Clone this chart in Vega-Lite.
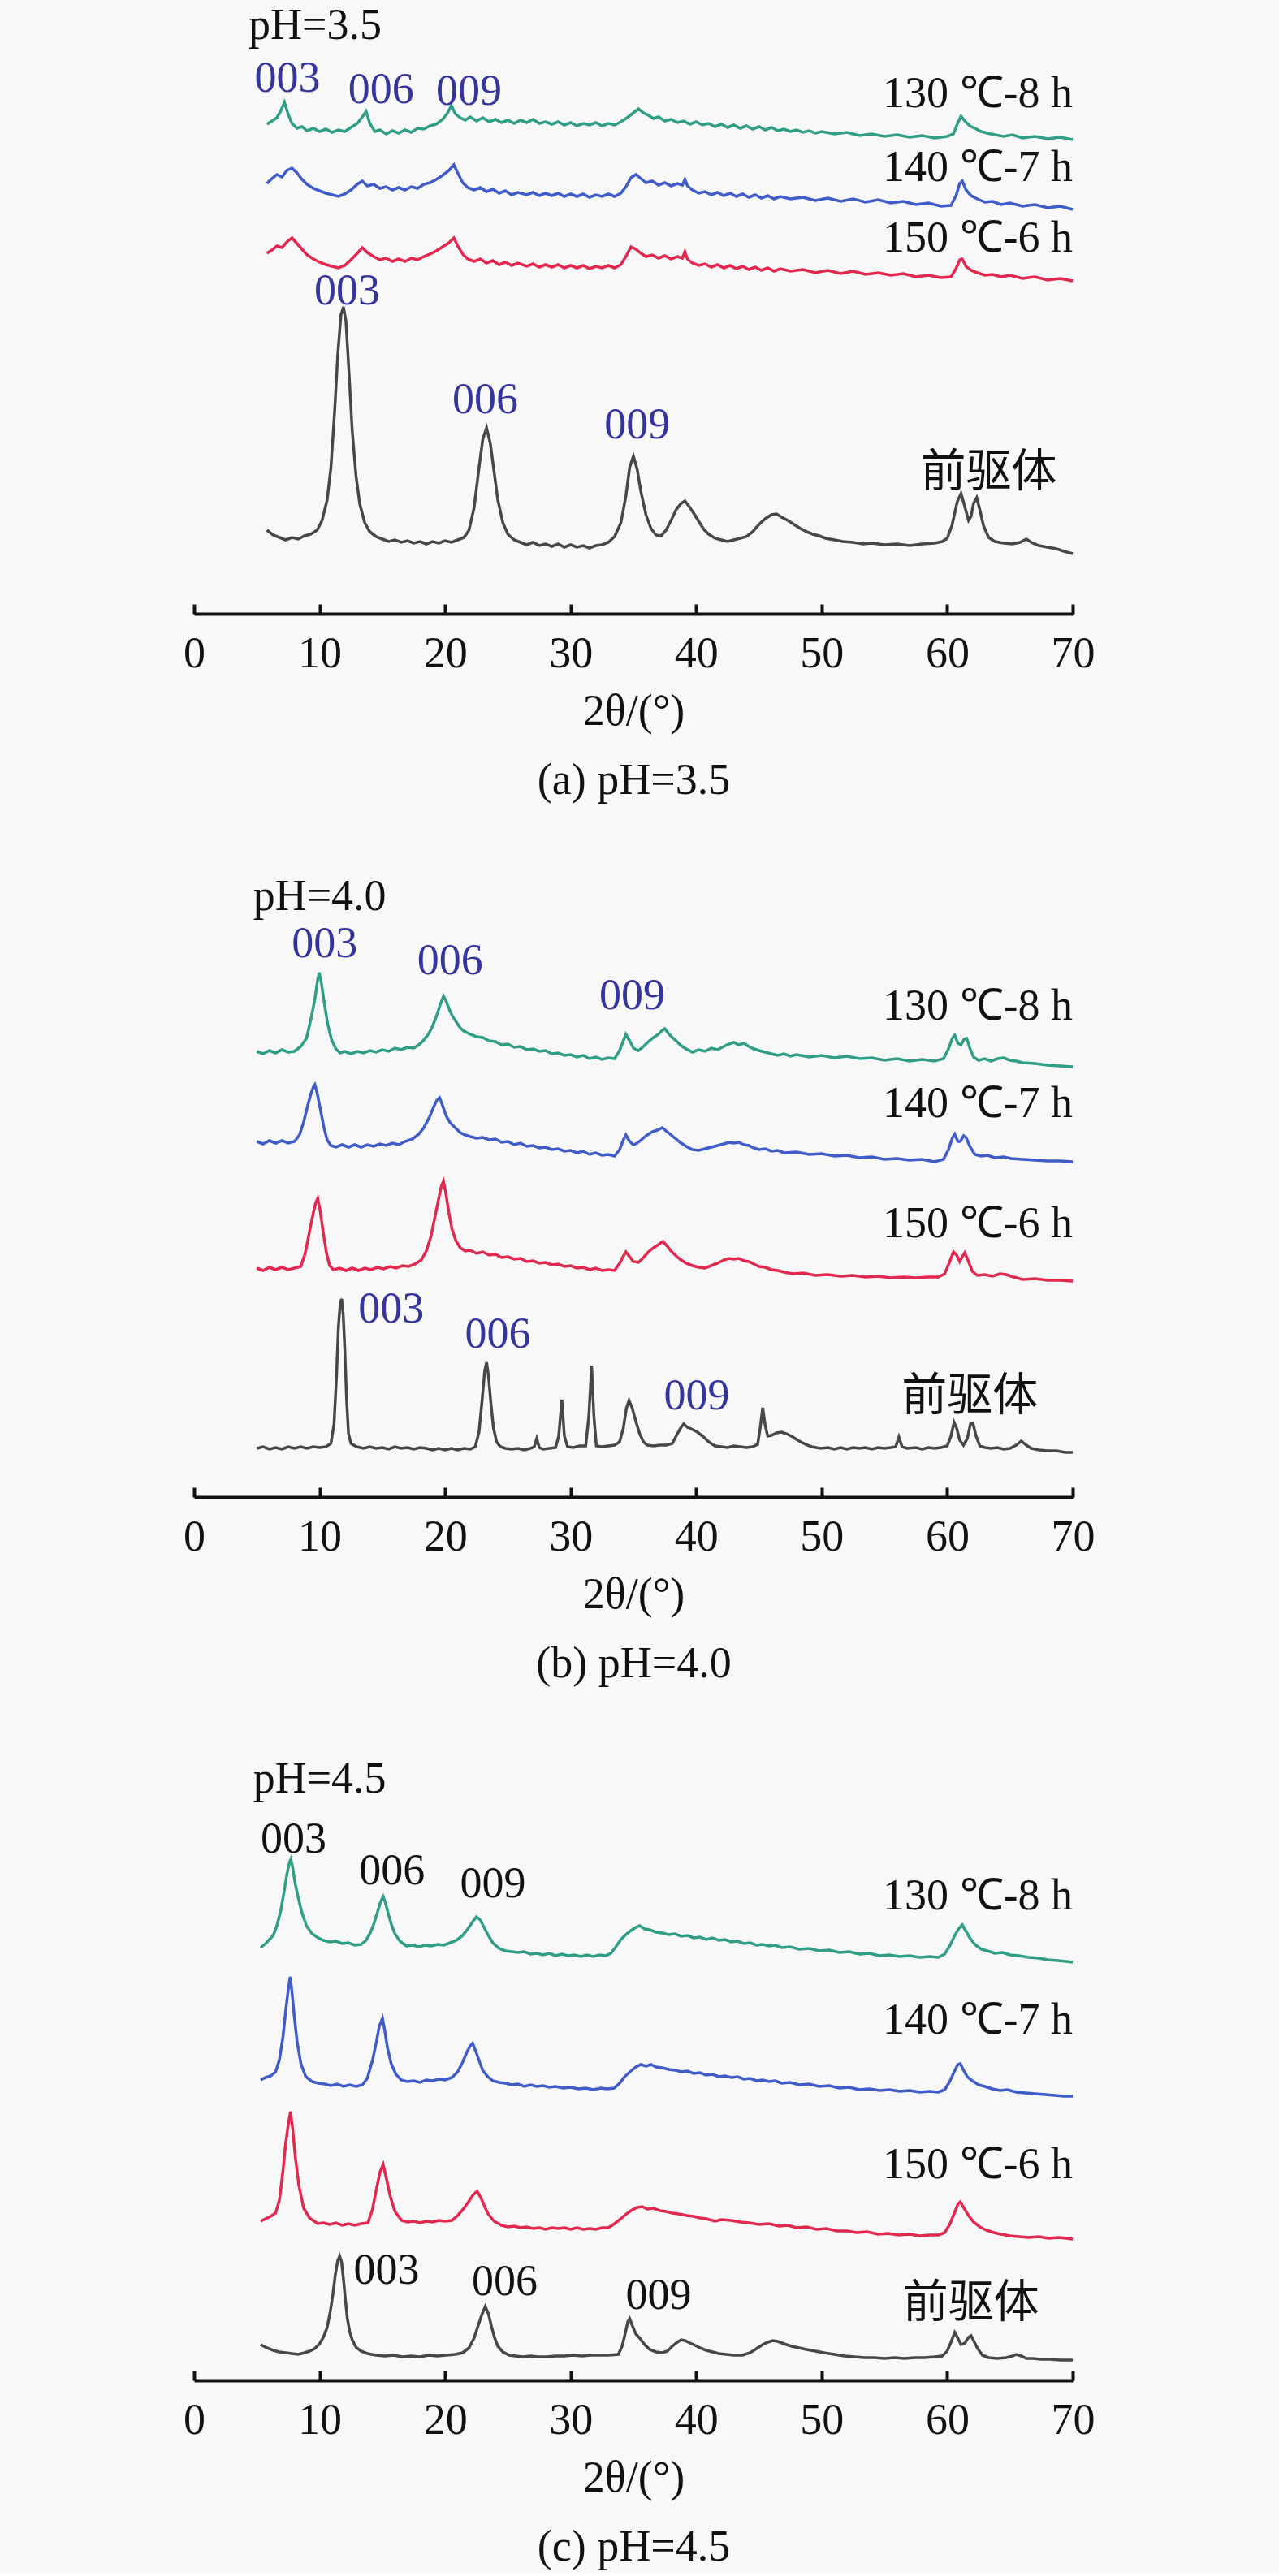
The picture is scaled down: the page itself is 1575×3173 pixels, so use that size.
{
  "$schema": "https://vega.github.io/schema/vega-lite/v6.json",
  "background": "#f8f8f8",
  "padding": {"left": 225, "top": 5, "right": 235, "bottom": 5},
  "bounds": "flush",
  "spacing": 338,
  "datasets": {
    "a": [
      {"s":"130","x":5.8,"y":603},{"s":"130","x":6.2,"y":607},{"s":"130","x":6.6,"y":611},{"s":"130","x":6.9,"y":619},{"s":"130","x":7.2,"y":630},{"s":"130","x":7.5,"y":615},{"s":"130","x":7.8,"y":604},{"s":"130","x":8.2,"y":598},{"s":"130","x":8.6,"y":600},{"s":"130","x":9.0,"y":595},{"s":"130","x":9.5,"y":598},{"s":"130","x":10.0,"y":594},{"s":"130","x":10.5,"y":597},{"s":"130","x":11.0,"y":593},{"s":"130","x":11.5,"y":596},{"s":"130","x":12.0,"y":594},{"s":"130","x":12.5,"y":599},{"s":"130","x":13.0,"y":604},{"s":"130","x":13.4,"y":612},{"s":"130","x":13.7,"y":619},{"s":"130","x":14.0,"y":604},{"s":"130","x":14.4,"y":594},{"s":"130","x":14.8,"y":596},{"s":"130","x":15.3,"y":591},{"s":"130","x":15.8,"y":595},{"s":"130","x":16.3,"y":592},{"s":"130","x":16.8,"y":596},{"s":"130","x":17.3,"y":593},{"s":"130","x":17.8,"y":598},{"s":"130","x":18.3,"y":597},{"s":"130","x":18.8,"y":601},{"s":"130","x":19.3,"y":603},{"s":"130","x":19.8,"y":609},{"s":"130","x":20.2,"y":617},{"s":"130","x":20.5,"y":626},{"s":"130","x":20.8,"y":616},{"s":"130","x":21.2,"y":611},{"s":"130","x":21.6,"y":608},{"s":"130","x":22.0,"y":612},{"s":"130","x":22.5,"y":607},{"s":"130","x":23.0,"y":611},{"s":"130","x":23.5,"y":606},{"s":"130","x":24.0,"y":609},{"s":"130","x":24.5,"y":605},{"s":"130","x":25.0,"y":608},{"s":"130","x":25.5,"y":604},{"s":"130","x":26.0,"y":608},{"s":"130","x":26.5,"y":605},{"s":"130","x":27.0,"y":609},{"s":"130","x":27.5,"y":604},{"s":"130","x":28.0,"y":606},{"s":"130","x":28.5,"y":603},{"s":"130","x":29.0,"y":606},{"s":"130","x":29.5,"y":602},{"s":"130","x":30.0,"y":605},{"s":"130","x":30.5,"y":601},{"s":"130","x":31.0,"y":604},{"s":"130","x":31.5,"y":602},{"s":"130","x":32.0,"y":605},{"s":"130","x":32.5,"y":601},{"s":"130","x":33.0,"y":604},{"s":"130","x":33.5,"y":602},{"s":"130","x":34.0,"y":606},{"s":"130","x":34.5,"y":611},{"s":"130","x":35.0,"y":617},{"s":"130","x":35.4,"y":622},{"s":"130","x":35.8,"y":617},{"s":"130","x":36.2,"y":614},{"s":"130","x":36.6,"y":610},{"s":"130","x":37.0,"y":612},{"s":"130","x":37.5,"y":607},{"s":"130","x":38.0,"y":609},{"s":"130","x":38.5,"y":605},{"s":"130","x":39.0,"y":607},{"s":"130","x":39.5,"y":603},{"s":"130","x":40.0,"y":606},{"s":"130","x":40.5,"y":602},{"s":"130","x":41.0,"y":604},{"s":"130","x":41.5,"y":600},{"s":"130","x":42.0,"y":603},{"s":"130","x":42.5,"y":599},{"s":"130","x":43.0,"y":602},{"s":"130","x":43.5,"y":598},{"s":"130","x":44.0,"y":601},{"s":"130","x":44.5,"y":597},{"s":"130","x":45.0,"y":600},{"s":"130","x":45.5,"y":596},{"s":"130","x":46.0,"y":599},{"s":"130","x":46.5,"y":595},{"s":"130","x":47.0,"y":597},{"s":"130","x":47.5,"y":594},{"s":"130","x":48.0,"y":596},{"s":"130","x":48.5,"y":593},{"s":"130","x":49.0,"y":595},{"s":"130","x":49.5,"y":592},{"s":"130","x":50.0,"y":594},{"s":"130","x":51.0,"y":591},{"s":"130","x":52.0,"y":593},{"s":"130","x":53.0,"y":589},{"s":"130","x":54.0,"y":591},{"s":"130","x":55.0,"y":588},{"s":"130","x":56.0,"y":590},{"s":"130","x":57.0,"y":587},{"s":"130","x":58.0,"y":589},{"s":"130","x":59.0,"y":586},{"s":"130","x":60.0,"y":588},{"s":"130","x":60.5,"y":591},{"s":"130","x":60.8,"y":603},{"s":"130","x":61.1,"y":613},{"s":"130","x":61.4,"y":607},{"s":"130","x":61.8,"y":601},{"s":"130","x":62.2,"y":598},{"s":"130","x":62.7,"y":594},{"s":"130","x":63.2,"y":592},{"s":"130","x":63.8,"y":590},{"s":"130","x":64.5,"y":588},{"s":"130","x":65.2,"y":590},{"s":"130","x":66.0,"y":586},{"s":"130","x":67.0,"y":588},{"s":"130","x":68.0,"y":585},{"s":"130","x":69.0,"y":587},{"s":"130","x":70.0,"y":584},
      {"s":"140","x":5.8,"y":530},{"s":"140","x":6.2,"y":536},{"s":"140","x":6.6,"y":541},{"s":"140","x":7.0,"y":538},{"s":"140","x":7.4,"y":546},{"s":"140","x":7.8,"y":549},{"s":"140","x":8.2,"y":543},{"s":"140","x":8.6,"y":535},{"s":"140","x":9.0,"y":529},{"s":"140","x":9.5,"y":524},{"s":"140","x":10.0,"y":521},{"s":"140","x":10.5,"y":518},{"s":"140","x":11.0,"y":516},{"s":"140","x":11.5,"y":514},{"s":"140","x":12.0,"y":517},{"s":"140","x":12.5,"y":522},{"s":"140","x":13.0,"y":529},{"s":"140","x":13.4,"y":533},{"s":"140","x":13.8,"y":527},{"s":"140","x":14.3,"y":529},{"s":"140","x":14.8,"y":524},{"s":"140","x":15.3,"y":526},{"s":"140","x":15.8,"y":522},{"s":"140","x":16.3,"y":525},{"s":"140","x":16.8,"y":522},{"s":"140","x":17.3,"y":526},{"s":"140","x":17.8,"y":524},{"s":"140","x":18.3,"y":529},{"s":"140","x":18.8,"y":531},{"s":"140","x":19.3,"y":535},{"s":"140","x":19.8,"y":540},{"s":"140","x":20.3,"y":546},{"s":"140","x":20.7,"y":553},{"s":"140","x":21.0,"y":543},{"s":"140","x":21.4,"y":531},{"s":"140","x":21.8,"y":525},{"s":"140","x":22.3,"y":522},{"s":"140","x":22.8,"y":525},{"s":"140","x":23.3,"y":520},{"s":"140","x":23.8,"y":523},{"s":"140","x":24.3,"y":518},{"s":"140","x":24.8,"y":521},{"s":"140","x":25.3,"y":516},{"s":"140","x":25.8,"y":519},{"s":"140","x":26.5,"y":516},{"s":"140","x":27.0,"y":519},{"s":"140","x":27.5,"y":515},{"s":"140","x":28.0,"y":518},{"s":"140","x":28.5,"y":515},{"s":"140","x":29.0,"y":518},{"s":"140","x":29.5,"y":514},{"s":"140","x":30.0,"y":517},{"s":"140","x":30.5,"y":514},{"s":"140","x":31.0,"y":517},{"s":"140","x":31.5,"y":513},{"s":"140","x":32.0,"y":516},{"s":"140","x":32.5,"y":514},{"s":"140","x":33.0,"y":517},{"s":"140","x":33.5,"y":514},{"s":"140","x":34.0,"y":518},{"s":"140","x":34.4,"y":526},{"s":"140","x":34.8,"y":537},{"s":"140","x":35.2,"y":541},{"s":"140","x":35.6,"y":536},{"s":"140","x":36.0,"y":531},{"s":"140","x":36.5,"y":533},{"s":"140","x":37.0,"y":528},{"s":"140","x":37.5,"y":531},{"s":"140","x":38.0,"y":527},{"s":"140","x":38.5,"y":530},{"s":"140","x":38.9,"y":528},{"s":"140","x":39.1,"y":535},{"s":"140","x":39.3,"y":527},{"s":"140","x":39.7,"y":522},{"s":"140","x":40.2,"y":518},{"s":"140","x":40.7,"y":520},{"s":"140","x":41.2,"y":516},{"s":"140","x":41.7,"y":519},{"s":"140","x":42.2,"y":515},{"s":"140","x":42.7,"y":518},{"s":"140","x":43.2,"y":514},{"s":"140","x":43.7,"y":517},{"s":"140","x":44.2,"y":513},{"s":"140","x":44.7,"y":516},{"s":"140","x":45.2,"y":512},{"s":"140","x":45.7,"y":515},{"s":"140","x":46.2,"y":511},{"s":"140","x":46.7,"y":514},{"s":"140","x":47.5,"y":511},{"s":"140","x":48.5,"y":513},{"s":"140","x":49.5,"y":509},{"s":"140","x":50.5,"y":512},{"s":"140","x":51.5,"y":508},{"s":"140","x":52.5,"y":511},{"s":"140","x":53.5,"y":507},{"s":"140","x":54.5,"y":510},{"s":"140","x":55.5,"y":506},{"s":"140","x":56.5,"y":508},{"s":"140","x":57.5,"y":504},{"s":"140","x":58.5,"y":506},{"s":"140","x":59.5,"y":502},{"s":"140","x":60.3,"y":503},{"s":"140","x":60.7,"y":515},{"s":"140","x":61.0,"y":530},{"s":"140","x":61.2,"y":533},{"s":"140","x":61.5,"y":522},{"s":"140","x":61.9,"y":515},{"s":"140","x":62.4,"y":511},{"s":"140","x":63.0,"y":507},{"s":"140","x":63.6,"y":508},{"s":"140","x":64.3,"y":504},{"s":"140","x":65.0,"y":506},{"s":"140","x":66.0,"y":502},{"s":"140","x":67.0,"y":504},{"s":"140","x":68.0,"y":500},{"s":"140","x":69.0,"y":502},{"s":"140","x":70.0,"y":498},
      {"s":"150","x":5.8,"y":444},{"s":"150","x":6.2,"y":448},{"s":"150","x":6.6,"y":453},{"s":"150","x":7.0,"y":451},{"s":"150","x":7.4,"y":458},{"s":"150","x":7.8,"y":463},{"s":"150","x":8.2,"y":456},{"s":"150","x":8.6,"y":449},{"s":"150","x":9.0,"y":442},{"s":"150","x":9.5,"y":437},{"s":"150","x":10.0,"y":433},{"s":"150","x":10.5,"y":430},{"s":"150","x":11.0,"y":428},{"s":"150","x":11.5,"y":426},{"s":"150","x":12.0,"y":429},{"s":"150","x":12.5,"y":436},{"s":"150","x":13.0,"y":444},{"s":"150","x":13.4,"y":451},{"s":"150","x":13.8,"y":445},{"s":"150","x":14.3,"y":440},{"s":"150","x":14.8,"y":436},{"s":"150","x":15.3,"y":438},{"s":"150","x":15.8,"y":434},{"s":"150","x":16.3,"y":437},{"s":"150","x":16.8,"y":434},{"s":"150","x":17.3,"y":438},{"s":"150","x":17.8,"y":436},{"s":"150","x":18.3,"y":440},{"s":"150","x":18.8,"y":443},{"s":"150","x":19.3,"y":447},{"s":"150","x":19.8,"y":452},{"s":"150","x":20.3,"y":457},{"s":"150","x":20.7,"y":463},{"s":"150","x":21.0,"y":453},{"s":"150","x":21.4,"y":443},{"s":"150","x":21.8,"y":437},{"s":"150","x":22.3,"y":434},{"s":"150","x":22.8,"y":437},{"s":"150","x":23.3,"y":432},{"s":"150","x":23.8,"y":435},{"s":"150","x":24.3,"y":430},{"s":"150","x":24.8,"y":433},{"s":"150","x":25.3,"y":429},{"s":"150","x":25.8,"y":432},{"s":"150","x":26.5,"y":428},{"s":"150","x":27.0,"y":431},{"s":"150","x":27.5,"y":427},{"s":"150","x":28.0,"y":430},{"s":"150","x":28.5,"y":427},{"s":"150","x":29.0,"y":430},{"s":"150","x":29.5,"y":426},{"s":"150","x":30.0,"y":429},{"s":"150","x":30.5,"y":426},{"s":"150","x":31.0,"y":429},{"s":"150","x":31.5,"y":425},{"s":"150","x":32.0,"y":428},{"s":"150","x":32.5,"y":426},{"s":"150","x":33.0,"y":429},{"s":"150","x":33.5,"y":426},{"s":"150","x":34.0,"y":430},{"s":"150","x":34.4,"y":440},{"s":"150","x":34.8,"y":452},{"s":"150","x":35.2,"y":449},{"s":"150","x":35.6,"y":444},{"s":"150","x":36.0,"y":440},{"s":"150","x":36.5,"y":442},{"s":"150","x":37.0,"y":438},{"s":"150","x":37.5,"y":441},{"s":"150","x":38.0,"y":437},{"s":"150","x":38.5,"y":440},{"s":"150","x":38.9,"y":438},{"s":"150","x":39.1,"y":446},{"s":"150","x":39.3,"y":437},{"s":"150","x":39.7,"y":432},{"s":"150","x":40.2,"y":429},{"s":"150","x":40.7,"y":431},{"s":"150","x":41.2,"y":427},{"s":"150","x":41.7,"y":430},{"s":"150","x":42.2,"y":426},{"s":"150","x":42.7,"y":429},{"s":"150","x":43.2,"y":425},{"s":"150","x":43.7,"y":428},{"s":"150","x":44.2,"y":424},{"s":"150","x":44.7,"y":427},{"s":"150","x":45.2,"y":423},{"s":"150","x":45.7,"y":426},{"s":"150","x":46.2,"y":422},{"s":"150","x":46.7,"y":425},{"s":"150","x":47.5,"y":422},{"s":"150","x":48.5,"y":424},{"s":"150","x":49.5,"y":420},{"s":"150","x":50.5,"y":423},{"s":"150","x":51.5,"y":419},{"s":"150","x":52.5,"y":422},{"s":"150","x":53.5,"y":418},{"s":"150","x":54.5,"y":420},{"s":"150","x":55.5,"y":417},{"s":"150","x":56.5,"y":419},{"s":"150","x":57.5,"y":415},{"s":"150","x":58.5,"y":417},{"s":"150","x":59.5,"y":414},{"s":"150","x":60.3,"y":415},{"s":"150","x":60.7,"y":425},{"s":"150","x":61.0,"y":436},{"s":"150","x":61.2,"y":437},{"s":"150","x":61.5,"y":428},{"s":"150","x":61.9,"y":423},{"s":"150","x":62.4,"y":420},{"s":"150","x":63.0,"y":417},{"s":"150","x":63.6,"y":418},{"s":"150","x":64.3,"y":415},{"s":"150","x":65.0,"y":417},{"s":"150","x":66.0,"y":413},{"s":"150","x":67.0,"y":415},{"s":"150","x":68.0,"y":411},{"s":"150","x":69.0,"y":413},{"s":"150","x":70.0,"y":410},
      {"s":"pre","x":5.8,"y":103},{"s":"pre","x":6.3,"y":97},{"s":"pre","x":6.8,"y":94},{"s":"pre","x":7.3,"y":91},{"s":"pre","x":7.8,"y":94},{"s":"pre","x":8.3,"y":92},{"s":"pre","x":8.8,"y":96},{"s":"pre","x":9.3,"y":98},{"s":"pre","x":9.8,"y":103},{"s":"pre","x":10.2,"y":115},{"s":"pre","x":10.6,"y":140},{"s":"pre","x":10.9,"y":180},{"s":"pre","x":11.2,"y":250},{"s":"pre","x":11.45,"y":320},{"s":"pre","x":11.7,"y":368},{"s":"pre","x":11.9,"y":378},{"s":"pre","x":12.1,"y":360},{"s":"pre","x":12.35,"y":295},{"s":"pre","x":12.6,"y":225},{"s":"pre","x":12.9,"y":170},{"s":"pre","x":13.2,"y":135},{"s":"pre","x":13.6,"y":112},{"s":"pre","x":14.0,"y":101},{"s":"pre","x":14.5,"y":95},{"s":"pre","x":15.0,"y":92},{"s":"pre","x":15.5,"y":89},{"s":"pre","x":16.0,"y":91},{"s":"pre","x":16.5,"y":88},{"s":"pre","x":17.0,"y":90},{"s":"pre","x":17.5,"y":87},{"s":"pre","x":18.0,"y":89},{"s":"pre","x":18.5,"y":86},{"s":"pre","x":19.0,"y":89},{"s":"pre","x":19.5,"y":87},{"s":"pre","x":20.0,"y":90},{"s":"pre","x":20.5,"y":88},{"s":"pre","x":21.0,"y":91},{"s":"pre","x":21.5,"y":94},{"s":"pre","x":21.9,"y":103},{"s":"pre","x":22.3,"y":130},{"s":"pre","x":22.7,"y":180},{"s":"pre","x":23.0,"y":215},{"s":"pre","x":23.3,"y":229},{"s":"pre","x":23.6,"y":210},{"s":"pre","x":23.9,"y":175},{"s":"pre","x":24.2,"y":140},{"s":"pre","x":24.6,"y":112},{"s":"pre","x":25.0,"y":98},{"s":"pre","x":25.5,"y":91},{"s":"pre","x":26.0,"y":88},{"s":"pre","x":26.5,"y":85},{"s":"pre","x":27.0,"y":88},{"s":"pre","x":27.5,"y":84},{"s":"pre","x":28.0,"y":86},{"s":"pre","x":28.5,"y":83},{"s":"pre","x":29.0,"y":86},{"s":"pre","x":29.5,"y":82},{"s":"pre","x":30.0,"y":85},{"s":"pre","x":30.5,"y":82},{"s":"pre","x":31.0,"y":84},{"s":"pre","x":31.5,"y":81},{"s":"pre","x":32.0,"y":84},{"s":"pre","x":32.5,"y":85},{"s":"pre","x":33.0,"y":88},{"s":"pre","x":33.5,"y":95},{"s":"pre","x":34.0,"y":112},{"s":"pre","x":34.4,"y":145},{"s":"pre","x":34.7,"y":180},{"s":"pre","x":35.0,"y":194},{"s":"pre","x":35.3,"y":178},{"s":"pre","x":35.6,"y":150},{"s":"pre","x":36.0,"y":122},{"s":"pre","x":36.4,"y":105},{"s":"pre","x":36.8,"y":97},{"s":"pre","x":37.2,"y":96},{"s":"pre","x":37.6,"y":103},{"s":"pre","x":38.0,"y":115},{"s":"pre","x":38.4,"y":128},{"s":"pre","x":38.8,"y":136},{"s":"pre","x":39.1,"y":139},{"s":"pre","x":39.4,"y":133},{"s":"pre","x":39.8,"y":124},{"s":"pre","x":40.2,"y":114},{"s":"pre","x":40.6,"y":104},{"s":"pre","x":41.0,"y":98},{"s":"pre","x":41.5,"y":93},{"s":"pre","x":42.0,"y":91},{"s":"pre","x":42.5,"y":89},{"s":"pre","x":43.0,"y":91},{"s":"pre","x":43.5,"y":93},{"s":"pre","x":44.0,"y":95},{"s":"pre","x":44.5,"y":101},{"s":"pre","x":45.0,"y":110},{"s":"pre","x":45.5,"y":117},{"s":"pre","x":46.0,"y":122},{"s":"pre","x":46.4,"y":123},{"s":"pre","x":46.8,"y":119},{"s":"pre","x":47.3,"y":115},{"s":"pre","x":47.8,"y":110},{"s":"pre","x":48.3,"y":105},{"s":"pre","x":48.8,"y":101},{"s":"pre","x":49.3,"y":98},{"s":"pre","x":49.8,"y":96},{"s":"pre","x":50.3,"y":93},{"s":"pre","x":51.0,"y":91},{"s":"pre","x":51.7,"y":89},{"s":"pre","x":52.5,"y":88},{"s":"pre","x":53.3,"y":86},{"s":"pre","x":54.0,"y":87},{"s":"pre","x":55.0,"y":85},{"s":"pre","x":56.0,"y":86},{"s":"pre","x":57.0,"y":84},{"s":"pre","x":58.0,"y":86},{"s":"pre","x":59.0,"y":87},{"s":"pre","x":59.6,"y":89},{"s":"pre","x":60.0,"y":93},{"s":"pre","x":60.4,"y":110},{"s":"pre","x":60.8,"y":138},{"s":"pre","x":61.1,"y":148},{"s":"pre","x":61.4,"y":132},{"s":"pre","x":61.7,"y":115},{"s":"pre","x":61.9,"y":120},{"s":"pre","x":62.1,"y":136},{"s":"pre","x":62.35,"y":143},{"s":"pre","x":62.6,"y":128},{"s":"pre","x":62.9,"y":108},{"s":"pre","x":63.3,"y":94},{"s":"pre","x":63.8,"y":89},{"s":"pre","x":64.5,"y":87},{"s":"pre","x":65.2,"y":86},{"s":"pre","x":65.8,"y":88},{"s":"pre","x":66.3,"y":92},{"s":"pre","x":66.7,"y":88},{"s":"pre","x":67.3,"y":84},{"s":"pre","x":68.0,"y":82},{"s":"pre","x":68.7,"y":80},{"s":"pre","x":69.3,"y":77},{"s":"pre","x":70.0,"y":74}
    ],
    "b": [
      {"s":"130","x":5.0,"y":549},{"s":"130","x":5.5,"y":546},{"s":"130","x":6.0,"y":550},{"s":"130","x":6.5,"y":547},{"s":"130","x":7.0,"y":551},{"s":"130","x":7.5,"y":548},{"s":"130","x":8.0,"y":549},{"s":"130","x":8.5,"y":555},{"s":"130","x":8.95,"y":565},{"s":"130","x":9.3,"y":588},{"s":"130","x":9.62,"y":613},{"s":"130","x":9.85,"y":638},{"s":"130","x":9.98,"y":646},{"s":"130","x":10.15,"y":632},{"s":"130","x":10.38,"y":608},{"s":"130","x":10.65,"y":582},{"s":"130","x":10.96,"y":563},{"s":"130","x":11.3,"y":552},{"s":"130","x":11.63,"y":547},{"s":"130","x":12.0,"y":549},{"s":"130","x":12.5,"y":546},{"s":"130","x":13.0,"y":549},{"s":"130","x":13.5,"y":547},{"s":"130","x":14.0,"y":550},{"s":"130","x":14.5,"y":548},{"s":"130","x":15.0,"y":551},{"s":"130","x":15.5,"y":549},{"s":"130","x":16.0,"y":553},{"s":"130","x":16.5,"y":551},{"s":"130","x":17.0,"y":554},{"s":"130","x":17.5,"y":553},{"s":"130","x":17.9,"y":557},{"s":"130","x":18.3,"y":563},{"s":"130","x":18.7,"y":571},{"s":"130","x":19.0,"y":580},{"s":"130","x":19.3,"y":592},{"s":"130","x":19.6,"y":606},{"s":"130","x":19.87,"y":617},{"s":"130","x":20.1,"y":610},{"s":"130","x":20.35,"y":600},{"s":"130","x":20.6,"y":592},{"s":"130","x":20.9,"y":585},{"s":"130","x":21.2,"y":578},{"s":"130","x":21.5,"y":574},{"s":"130","x":22.0,"y":570},{"s":"130","x":22.5,"y":567},{"s":"130","x":23.0,"y":566},{"s":"130","x":23.5,"y":562},{"s":"130","x":24.0,"y":561},{"s":"130","x":24.5,"y":557},{"s":"130","x":25.0,"y":558},{"s":"130","x":25.5,"y":554},{"s":"130","x":26.0,"y":555},{"s":"130","x":26.5,"y":551},{"s":"130","x":27.0,"y":552},{"s":"130","x":27.5,"y":549},{"s":"130","x":28.0,"y":550},{"s":"130","x":28.5,"y":546},{"s":"130","x":29.0,"y":547},{"s":"130","x":29.5,"y":544},{"s":"130","x":30.0,"y":545},{"s":"130","x":30.5,"y":542},{"s":"130","x":31.0,"y":544},{"s":"130","x":31.5,"y":540},{"s":"130","x":32.0,"y":542},{"s":"130","x":32.5,"y":539},{"s":"130","x":33.0,"y":541},{"s":"130","x":33.5,"y":540},{"s":"130","x":33.9,"y":550},{"s":"130","x":34.2,"y":562},{"s":"130","x":34.4,"y":570},{"s":"130","x":34.7,"y":562},{"s":"130","x":35.0,"y":553},{"s":"130","x":35.4,"y":550},{"s":"130","x":35.8,"y":555},{"s":"130","x":36.2,"y":561},{"s":"130","x":36.6,"y":566},{"s":"130","x":37.0,"y":570},{"s":"130","x":37.3,"y":575},{"s":"130","x":37.5,"y":577},{"s":"130","x":37.8,"y":571},{"s":"130","x":38.1,"y":566},{"s":"130","x":38.4,"y":562},{"s":"130","x":38.8,"y":556},{"s":"130","x":39.2,"y":552},{"s":"130","x":39.7,"y":548},{"s":"130","x":40.2,"y":551},{"s":"130","x":40.7,"y":549},{"s":"130","x":41.2,"y":553},{"s":"130","x":41.7,"y":551},{"s":"130","x":42.2,"y":555},{"s":"130","x":42.6,"y":558},{"s":"130","x":43.0,"y":560},{"s":"130","x":43.4,"y":557},{"s":"130","x":43.8,"y":559},{"s":"130","x":44.2,"y":555},{"s":"130","x":44.6,"y":552},{"s":"130","x":45.0,"y":550},{"s":"130","x":45.5,"y":548},{"s":"130","x":46.0,"y":546},{"s":"130","x":46.5,"y":544},{"s":"130","x":47.0,"y":546},{"s":"130","x":47.5,"y":543},{"s":"130","x":48.0,"y":545},{"s":"130","x":49.0,"y":542},{"s":"130","x":50.0,"y":544},{"s":"130","x":51.0,"y":541},{"s":"130","x":52.0,"y":543},{"s":"130","x":53.0,"y":540},{"s":"130","x":54.0,"y":541},{"s":"130","x":55.0,"y":538},{"s":"130","x":56.0,"y":540},{"s":"130","x":57.0,"y":537},{"s":"130","x":58.0,"y":539},{"s":"130","x":59.0,"y":537},{"s":"130","x":59.7,"y":540},{"s":"130","x":60.1,"y":552},{"s":"130","x":60.4,"y":565},{"s":"130","x":60.6,"y":569},{"s":"130","x":60.85,"y":559},{"s":"130","x":61.1,"y":557},{"s":"130","x":61.35,"y":564},{"s":"130","x":61.55,"y":565},{"s":"130","x":61.8,"y":553},{"s":"130","x":62.1,"y":542},{"s":"130","x":62.5,"y":538},{"s":"130","x":63.0,"y":540},{"s":"130","x":63.5,"y":537},{"s":"130","x":64.0,"y":540},{"s":"130","x":64.5,"y":541},{"s":"130","x":65.0,"y":538},{"s":"130","x":65.5,"y":537},{"s":"130","x":66.0,"y":535},{"s":"130","x":67.0,"y":534},{"s":"130","x":68.0,"y":532},{"s":"130","x":69.0,"y":531},{"s":"130","x":70.0,"y":530},
      {"s":"140","x":5.0,"y":438},{"s":"140","x":5.5,"y":435},{"s":"140","x":6.0,"y":439},{"s":"140","x":6.5,"y":436},{"s":"140","x":7.0,"y":439},{"s":"140","x":7.5,"y":436},{"s":"140","x":8.0,"y":438},{"s":"140","x":8.4,"y":446},{"s":"140","x":8.73,"y":462},{"s":"140","x":9.05,"y":482},{"s":"140","x":9.31,"y":497},{"s":"140","x":9.5,"y":505},{"s":"140","x":9.62,"y":508},{"s":"140","x":9.8,"y":498},{"s":"140","x":10.07,"y":477},{"s":"140","x":10.35,"y":455},{"s":"140","x":10.6,"y":440},{"s":"140","x":10.9,"y":433},{"s":"140","x":11.3,"y":431},{"s":"140","x":11.8,"y":434},{"s":"140","x":12.3,"y":431},{"s":"140","x":12.8,"y":434},{"s":"140","x":13.3,"y":431},{"s":"140","x":13.8,"y":434},{"s":"140","x":14.3,"y":432},{"s":"140","x":14.8,"y":435},{"s":"140","x":15.3,"y":433},{"s":"140","x":15.8,"y":436},{"s":"140","x":16.3,"y":434},{"s":"140","x":16.8,"y":438},{"s":"140","x":17.4,"y":441},{"s":"140","x":17.9,"y":447},{"s":"140","x":18.3,"y":455},{"s":"140","x":18.75,"y":468},{"s":"140","x":19.1,"y":481},{"s":"140","x":19.35,"y":489},{"s":"140","x":19.56,"y":492},{"s":"140","x":19.8,"y":482},{"s":"140","x":20.1,"y":469},{"s":"140","x":20.4,"y":461},{"s":"140","x":20.8,"y":455},{"s":"140","x":21.2,"y":449},{"s":"140","x":21.6,"y":446},{"s":"140","x":22.0,"y":444},{"s":"140","x":22.5,"y":442},{"s":"140","x":23.0,"y":443},{"s":"140","x":23.5,"y":440},{"s":"140","x":24.0,"y":441},{"s":"140","x":24.5,"y":437},{"s":"140","x":25.0,"y":438},{"s":"140","x":25.5,"y":434},{"s":"140","x":26.0,"y":436},{"s":"140","x":26.5,"y":432},{"s":"140","x":27.0,"y":433},{"s":"140","x":27.5,"y":430},{"s":"140","x":28.0,"y":431},{"s":"140","x":28.5,"y":428},{"s":"140","x":29.0,"y":429},{"s":"140","x":29.5,"y":426},{"s":"140","x":30.0,"y":427},{"s":"140","x":30.5,"y":424},{"s":"140","x":31.0,"y":426},{"s":"140","x":31.5,"y":422},{"s":"140","x":32.0,"y":424},{"s":"140","x":32.5,"y":421},{"s":"140","x":33.0,"y":422},{"s":"140","x":33.5,"y":420},{"s":"140","x":33.9,"y":428},{"s":"140","x":34.2,"y":440},{"s":"140","x":34.4,"y":446},{"s":"140","x":34.7,"y":438},{"s":"140","x":35.0,"y":434},{"s":"140","x":35.3,"y":436},{"s":"140","x":35.7,"y":441},{"s":"140","x":36.1,"y":446},{"s":"140","x":36.5,"y":450},{"s":"140","x":36.9,"y":452},{"s":"140","x":37.3,"y":455},{"s":"140","x":37.6,"y":451},{"s":"140","x":38.0,"y":446},{"s":"140","x":38.4,"y":441},{"s":"140","x":38.8,"y":436},{"s":"140","x":39.2,"y":432},{"s":"140","x":39.7,"y":428},{"s":"140","x":40.2,"y":427},{"s":"140","x":40.7,"y":429},{"s":"140","x":41.2,"y":431},{"s":"140","x":41.7,"y":433},{"s":"140","x":42.2,"y":435},{"s":"140","x":42.6,"y":437},{"s":"140","x":43.0,"y":436},{"s":"140","x":43.4,"y":437},{"s":"140","x":43.8,"y":434},{"s":"140","x":44.2,"y":433},{"s":"140","x":44.6,"y":430},{"s":"140","x":45.0,"y":428},{"s":"140","x":45.5,"y":429},{"s":"140","x":46.0,"y":426},{"s":"140","x":46.5,"y":427},{"s":"140","x":47.0,"y":424},{"s":"140","x":48.0,"y":425},{"s":"140","x":49.0,"y":422},{"s":"140","x":50.0,"y":423},{"s":"140","x":51.0,"y":420},{"s":"140","x":52.0,"y":421},{"s":"140","x":53.0,"y":418},{"s":"140","x":54.0,"y":419},{"s":"140","x":55.0,"y":416},{"s":"140","x":56.0,"y":417},{"s":"140","x":57.0,"y":415},{"s":"140","x":58.0,"y":416},{"s":"140","x":59.0,"y":413},{"s":"140","x":59.7,"y":416},{"s":"140","x":60.1,"y":428},{"s":"140","x":60.4,"y":442},{"s":"140","x":60.6,"y":447},{"s":"140","x":60.85,"y":438},{"s":"140","x":61.05,"y":438},{"s":"140","x":61.3,"y":445},{"s":"140","x":61.5,"y":443},{"s":"140","x":61.8,"y":432},{"s":"140","x":62.2,"y":422},{"s":"140","x":62.7,"y":420},{"s":"140","x":63.2,"y":421},{"s":"140","x":63.8,"y":418},{"s":"140","x":64.5,"y":419},{"s":"140","x":65.1,"y":417},{"s":"140","x":66.0,"y":416},{"s":"140","x":67.0,"y":415},{"s":"140","x":68.0,"y":414},{"s":"140","x":69.0,"y":414},{"s":"140","x":70.0,"y":413},
      {"s":"150","x":5.0,"y":282},{"s":"150","x":5.5,"y":279},{"s":"150","x":6.0,"y":283},{"s":"150","x":6.5,"y":280},{"s":"150","x":7.0,"y":283},{"s":"150","x":7.5,"y":280},{"s":"150","x":8.0,"y":282},{"s":"150","x":8.5,"y":284},{"s":"150","x":8.85,"y":300},{"s":"150","x":9.18,"y":326},{"s":"150","x":9.5,"y":350},{"s":"150","x":9.7,"y":363},{"s":"150","x":9.85,"y":368},{"s":"150","x":10.05,"y":352},{"s":"150","x":10.29,"y":326},{"s":"150","x":10.55,"y":300},{"s":"150","x":10.8,"y":285},{"s":"150","x":11.1,"y":280},{"s":"150","x":11.6,"y":282},{"s":"150","x":12.1,"y":279},{"s":"150","x":12.6,"y":282},{"s":"150","x":13.1,"y":279},{"s":"150","x":13.6,"y":282},{"s":"150","x":14.1,"y":280},{"s":"150","x":14.6,"y":283},{"s":"150","x":15.1,"y":281},{"s":"150","x":15.6,"y":284},{"s":"150","x":16.1,"y":282},{"s":"150","x":16.6,"y":285},{"s":"150","x":17.1,"y":284},{"s":"150","x":17.6,"y":287},{"s":"150","x":18.1,"y":292},{"s":"150","x":18.5,"y":303},{"s":"150","x":18.85,"y":320},{"s":"150","x":19.15,"y":342},{"s":"150","x":19.45,"y":365},{"s":"150","x":19.7,"y":383},{"s":"150","x":19.87,"y":389},{"s":"150","x":20.05,"y":375},{"s":"150","x":20.3,"y":350},{"s":"150","x":20.55,"y":330},{"s":"150","x":20.85,"y":316},{"s":"150","x":21.2,"y":307},{"s":"150","x":21.6,"y":303},{"s":"150","x":22.0,"y":304},{"s":"150","x":22.5,"y":300},{"s":"150","x":23.0,"y":302},{"s":"150","x":23.5,"y":298},{"s":"150","x":24.0,"y":299},{"s":"150","x":24.5,"y":295},{"s":"150","x":25.0,"y":296},{"s":"150","x":25.5,"y":293},{"s":"150","x":26.0,"y":294},{"s":"150","x":26.5,"y":290},{"s":"150","x":27.0,"y":291},{"s":"150","x":27.5,"y":288},{"s":"150","x":28.0,"y":289},{"s":"150","x":28.5,"y":286},{"s":"150","x":29.0,"y":287},{"s":"150","x":29.5,"y":284},{"s":"150","x":30.0,"y":285},{"s":"150","x":30.5,"y":282},{"s":"150","x":31.0,"y":283},{"s":"150","x":31.5,"y":280},{"s":"150","x":32.0,"y":282},{"s":"150","x":32.5,"y":279},{"s":"150","x":33.0,"y":280},{"s":"150","x":33.5,"y":279},{"s":"150","x":33.9,"y":288},{"s":"150","x":34.2,"y":297},{"s":"150","x":34.4,"y":302},{"s":"150","x":34.7,"y":296},{"s":"150","x":35.0,"y":290},{"s":"150","x":35.4,"y":289},{"s":"150","x":35.8,"y":295},{"s":"150","x":36.2,"y":302},{"s":"150","x":36.6,"y":307},{"s":"150","x":37.0,"y":311},{"s":"150","x":37.35,"y":315},{"s":"150","x":37.7,"y":309},{"s":"150","x":38.0,"y":303},{"s":"150","x":38.4,"y":297},{"s":"150","x":38.8,"y":292},{"s":"150","x":39.2,"y":288},{"s":"150","x":39.7,"y":285},{"s":"150","x":40.2,"y":283},{"s":"150","x":40.7,"y":282},{"s":"150","x":41.2,"y":285},{"s":"150","x":41.7,"y":288},{"s":"150","x":42.2,"y":292},{"s":"150","x":42.6,"y":294},{"s":"150","x":43.0,"y":293},{"s":"150","x":43.4,"y":294},{"s":"150","x":43.8,"y":291},{"s":"150","x":44.2,"y":290},{"s":"150","x":44.6,"y":287},{"s":"150","x":45.0,"y":284},{"s":"150","x":45.5,"y":283},{"s":"150","x":46.0,"y":280},{"s":"150","x":46.5,"y":279},{"s":"150","x":47.0,"y":277},{"s":"150","x":47.7,"y":275},{"s":"150","x":48.5,"y":276},{"s":"150","x":49.5,"y":273},{"s":"150","x":50.5,"y":274},{"s":"150","x":51.5,"y":272},{"s":"150","x":52.5,"y":273},{"s":"150","x":53.5,"y":271},{"s":"150","x":54.5,"y":272},{"s":"150","x":55.5,"y":270},{"s":"150","x":56.5,"y":271},{"s":"150","x":57.5,"y":270},{"s":"150","x":58.5,"y":271},{"s":"150","x":59.3,"y":271},{"s":"150","x":59.8,"y":275},{"s":"150","x":60.2,"y":290},{"s":"150","x":60.5,"y":302},{"s":"150","x":60.75,"y":298},{"s":"150","x":61.0,"y":290},{"s":"150","x":61.2,"y":296},{"s":"150","x":61.4,"y":301},{"s":"150","x":61.7,"y":290},{"s":"150","x":62.0,"y":278},{"s":"150","x":62.4,"y":273},{"s":"150","x":63.0,"y":274},{"s":"150","x":63.6,"y":272},{"s":"150","x":64.2,"y":275},{"s":"150","x":64.7,"y":274},{"s":"150","x":65.3,"y":271},{"s":"150","x":66.0,"y":268},{"s":"150","x":67.0,"y":269},{"s":"150","x":68.0,"y":267},{"s":"150","x":69.0,"y":267},{"s":"150","x":70.0,"y":266},
      {"s":"pre","x":5.0,"y":60},{"s":"pre","x":5.5,"y":62},{"s":"pre","x":6.0,"y":59},{"s":"pre","x":6.5,"y":61},{"s":"pre","x":7.0,"y":59},{"s":"pre","x":7.5,"y":62},{"s":"pre","x":8.0,"y":60},{"s":"pre","x":8.5,"y":62},{"s":"pre","x":9.0,"y":60},{"s":"pre","x":9.5,"y":62},{"s":"pre","x":10.0,"y":61},{"s":"pre","x":10.5,"y":62},{"s":"pre","x":10.9,"y":66},{"s":"pre","x":11.15,"y":90},{"s":"pre","x":11.35,"y":150},{"s":"pre","x":11.5,"y":210},{"s":"pre","x":11.65,"y":240},{"s":"pre","x":11.76,"y":244},{"s":"pre","x":11.88,"y":225},{"s":"pre","x":12.0,"y":185},{"s":"pre","x":12.15,"y":120},{"s":"pre","x":12.3,"y":78},{"s":"pre","x":12.5,"y":66},{"s":"pre","x":12.96,"y":62},{"s":"pre","x":13.5,"y":60},{"s":"pre","x":14.0,"y":62},{"s":"pre","x":14.5,"y":60},{"s":"pre","x":15.0,"y":61},{"s":"pre","x":15.5,"y":59},{"s":"pre","x":16.0,"y":62},{"s":"pre","x":16.5,"y":60},{"s":"pre","x":17.0,"y":61},{"s":"pre","x":17.5,"y":59},{"s":"pre","x":18.0,"y":61},{"s":"pre","x":18.5,"y":60},{"s":"pre","x":19.0,"y":58},{"s":"pre","x":19.5,"y":60},{"s":"pre","x":20.0,"y":58},{"s":"pre","x":20.5,"y":60},{"s":"pre","x":21.0,"y":58},{"s":"pre","x":21.5,"y":60},{"s":"pre","x":22.0,"y":59},{"s":"pre","x":22.4,"y":62},{"s":"pre","x":22.7,"y":80},{"s":"pre","x":22.95,"y":120},{"s":"pre","x":23.15,"y":155},{"s":"pre","x":23.3,"y":166},{"s":"pre","x":23.45,"y":150},{"s":"pre","x":23.65,"y":115},{"s":"pre","x":23.85,"y":85},{"s":"pre","x":24.1,"y":68},{"s":"pre","x":24.4,"y":62},{"s":"pre","x":24.8,"y":60},{"s":"pre","x":25.3,"y":59},{"s":"pre","x":25.8,"y":60},{"s":"pre","x":26.3,"y":58},{"s":"pre","x":26.8,"y":60},{"s":"pre","x":27.1,"y":62},{"s":"pre","x":27.3,"y":72},{"s":"pre","x":27.5,"y":61},{"s":"pre","x":27.8,"y":59},{"s":"pre","x":28.3,"y":60},{"s":"pre","x":28.8,"y":61},{"s":"pre","x":29.05,"y":75},{"s":"pre","x":29.3,"y":120},{"s":"pre","x":29.5,"y":75},{"s":"pre","x":29.75,"y":62},{"s":"pre","x":30.2,"y":61},{"s":"pre","x":30.7,"y":63},{"s":"pre","x":31.2,"y":63},{"s":"pre","x":31.45,"y":100},{"s":"pre","x":31.67,"y":162},{"s":"pre","x":31.85,"y":100},{"s":"pre","x":32.05,"y":63},{"s":"pre","x":32.5,"y":62},{"s":"pre","x":33.0,"y":63},{"s":"pre","x":33.5,"y":64},{"s":"pre","x":33.9,"y":68},{"s":"pre","x":34.2,"y":85},{"s":"pre","x":34.45,"y":110},{"s":"pre","x":34.65,"y":119},{"s":"pre","x":34.9,"y":110},{"s":"pre","x":35.2,"y":93},{"s":"pre","x":35.5,"y":78},{"s":"pre","x":35.8,"y":68},{"s":"pre","x":36.1,"y":64},{"s":"pre","x":36.6,"y":63},{"s":"pre","x":37.1,"y":64},{"s":"pre","x":37.6,"y":64},{"s":"pre","x":38.1,"y":66},{"s":"pre","x":38.5,"y":78},{"s":"pre","x":38.8,"y":86},{"s":"pre","x":39.0,"y":90},{"s":"pre","x":39.3,"y":86},{"s":"pre","x":39.6,"y":84},{"s":"pre","x":40.1,"y":80},{"s":"pre","x":40.6,"y":74},{"s":"pre","x":41.0,"y":68},{"s":"pre","x":41.5,"y":63},{"s":"pre","x":42.0,"y":62},{"s":"pre","x":42.5,"y":61},{"s":"pre","x":43.0,"y":63},{"s":"pre","x":43.5,"y":62},{"s":"pre","x":44.0,"y":61},{"s":"pre","x":44.5,"y":62},{"s":"pre","x":44.9,"y":65},{"s":"pre","x":45.1,"y":85},{"s":"pre","x":45.3,"y":110},{"s":"pre","x":45.5,"y":88},{"s":"pre","x":45.7,"y":75},{"s":"pre","x":46.0,"y":76},{"s":"pre","x":46.4,"y":79},{"s":"pre","x":46.8,"y":80},{"s":"pre","x":47.2,"y":78},{"s":"pre","x":47.7,"y":74},{"s":"pre","x":48.2,"y":69},{"s":"pre","x":48.7,"y":65},{"s":"pre","x":49.2,"y":62},{"s":"pre","x":49.9,"y":60},{"s":"pre","x":50.5,"y":61},{"s":"pre","x":51.0,"y":59},{"s":"pre","x":51.5,"y":61},{"s":"pre","x":52.0,"y":59},{"s":"pre","x":52.5,"y":61},{"s":"pre","x":53.0,"y":60},{"s":"pre","x":53.5,"y":61},{"s":"pre","x":54.0,"y":59},{"s":"pre","x":54.5,"y":61},{"s":"pre","x":55.0,"y":60},{"s":"pre","x":55.5,"y":61},{"s":"pre","x":55.9,"y":62},{"s":"pre","x":56.15,"y":74},{"s":"pre","x":56.4,"y":62},{"s":"pre","x":56.8,"y":60},{"s":"pre","x":57.5,"y":61},{"s":"pre","x":58.0,"y":59},{"s":"pre","x":58.5,"y":61},{"s":"pre","x":59.0,"y":60},{"s":"pre","x":59.5,"y":61},{"s":"pre","x":60.0,"y":63},{"s":"pre","x":60.3,"y":75},{"s":"pre","x":60.55,"y":92},{"s":"pre","x":60.75,"y":85},{"s":"pre","x":61.0,"y":70},{"s":"pre","x":61.3,"y":64},{"s":"pre","x":61.6,"y":72},{"s":"pre","x":61.85,"y":90},{"s":"pre","x":62.05,"y":91},{"s":"pre","x":62.3,"y":75},{"s":"pre","x":62.6,"y":63},{"s":"pre","x":63.0,"y":61},{"s":"pre","x":63.5,"y":60},{"s":"pre","x":64.0,"y":61},{"s":"pre","x":64.5,"y":59},{"s":"pre","x":65.0,"y":60},{"s":"pre","x":65.5,"y":64},{"s":"pre","x":65.9,"y":69},{"s":"pre","x":66.3,"y":64},{"s":"pre","x":66.7,"y":60},{"s":"pre","x":67.3,"y":58},{"s":"pre","x":68.0,"y":57},{"s":"pre","x":68.7,"y":57},{"s":"pre","x":69.4,"y":55},{"s":"pre","x":70.0,"y":55}
    ],
    "c": [
      {"s":"130","x":5.3,"y":533},{"s":"130","x":5.7,"y":538},{"s":"130","x":6.0,"y":543},{"s":"130","x":6.3,"y":548},{"s":"130","x":6.6,"y":560},{"s":"130","x":6.9,"y":578},{"s":"130","x":7.15,"y":600},{"s":"130","x":7.4,"y":624},{"s":"130","x":7.6,"y":638},{"s":"130","x":7.71,"y":642},{"s":"130","x":7.85,"y":632},{"s":"130","x":8.05,"y":612},{"s":"130","x":8.28,"y":596},{"s":"130","x":8.55,"y":578},{"s":"130","x":8.95,"y":560},{"s":"130","x":9.4,"y":550},{"s":"130","x":9.9,"y":545},{"s":"130","x":10.3,"y":542},{"s":"130","x":10.8,"y":540},{"s":"130","x":11.3,"y":541},{"s":"130","x":11.8,"y":538},{"s":"130","x":12.3,"y":539},{"s":"130","x":12.8,"y":536},{"s":"130","x":13.3,"y":537},{"s":"130","x":13.7,"y":542},{"s":"130","x":14.0,"y":550},{"s":"130","x":14.3,"y":561},{"s":"130","x":14.6,"y":576},{"s":"130","x":14.85,"y":589},{"s":"130","x":15.06,"y":596},{"s":"130","x":15.25,"y":588},{"s":"130","x":15.5,"y":573},{"s":"130","x":15.75,"y":560},{"s":"130","x":16.0,"y":550},{"s":"130","x":16.4,"y":541},{"s":"130","x":16.9,"y":535},{"s":"130","x":17.4,"y":536},{"s":"130","x":17.9,"y":534},{"s":"130","x":18.4,"y":536},{"s":"130","x":18.9,"y":535},{"s":"130","x":19.4,"y":537},{"s":"130","x":19.9,"y":536},{"s":"130","x":20.4,"y":539},{"s":"130","x":20.9,"y":542},{"s":"130","x":21.4,"y":548},{"s":"130","x":21.8,"y":556},{"s":"130","x":22.2,"y":565},{"s":"130","x":22.5,"y":571},{"s":"130","x":22.8,"y":567},{"s":"130","x":23.1,"y":558},{"s":"130","x":23.4,"y":549},{"s":"130","x":23.8,"y":539},{"s":"130","x":24.3,"y":532},{"s":"130","x":24.8,"y":529},{"s":"130","x":25.3,"y":528},{"s":"130","x":25.8,"y":527},{"s":"130","x":26.3,"y":528},{"s":"130","x":26.8,"y":525},{"s":"130","x":27.3,"y":526},{"s":"130","x":27.8,"y":524},{"s":"130","x":28.3,"y":526},{"s":"130","x":28.8,"y":523},{"s":"130","x":29.3,"y":525},{"s":"130","x":29.8,"y":523},{"s":"130","x":30.3,"y":524},{"s":"130","x":30.8,"y":522},{"s":"130","x":31.3,"y":524},{"s":"130","x":31.8,"y":522},{"s":"130","x":32.3,"y":524},{"s":"130","x":32.8,"y":523},{"s":"130","x":33.2,"y":526},{"s":"130","x":33.6,"y":534},{"s":"130","x":34.0,"y":543},{"s":"130","x":34.4,"y":549},{"s":"130","x":34.8,"y":554},{"s":"130","x":35.2,"y":558},{"s":"130","x":35.5,"y":560},{"s":"130","x":35.9,"y":556},{"s":"130","x":36.3,"y":555},{"s":"130","x":36.8,"y":552},{"s":"130","x":37.3,"y":551},{"s":"130","x":37.8,"y":549},{"s":"130","x":38.3,"y":550},{"s":"130","x":38.8,"y":547},{"s":"130","x":39.3,"y":548},{"s":"130","x":39.8,"y":545},{"s":"130","x":40.3,"y":546},{"s":"130","x":40.8,"y":543},{"s":"130","x":41.3,"y":545},{"s":"130","x":41.8,"y":542},{"s":"130","x":42.3,"y":543},{"s":"130","x":42.8,"y":540},{"s":"130","x":43.3,"y":541},{"s":"130","x":43.8,"y":538},{"s":"130","x":44.3,"y":539},{"s":"130","x":44.8,"y":536},{"s":"130","x":45.3,"y":537},{"s":"130","x":45.8,"y":535},{"s":"130","x":46.3,"y":536},{"s":"130","x":46.8,"y":533},{"s":"130","x":47.5,"y":534},{"s":"130","x":48.2,"y":531},{"s":"130","x":49.0,"y":532},{"s":"130","x":49.8,"y":529},{"s":"130","x":50.6,"y":530},{"s":"130","x":51.4,"y":527},{"s":"130","x":52.2,"y":528},{"s":"130","x":53.0,"y":525},{"s":"130","x":53.8,"y":526},{"s":"130","x":54.6,"y":523},{"s":"130","x":55.4,"y":524},{"s":"130","x":56.2,"y":522},{"s":"130","x":57.0,"y":523},{"s":"130","x":57.8,"y":521},{"s":"130","x":58.6,"y":522},{"s":"130","x":59.3,"y":521},{"s":"130","x":59.8,"y":525},{"s":"130","x":60.2,"y":535},{"s":"130","x":60.6,"y":548},{"s":"130","x":60.9,"y":556},{"s":"130","x":61.2,"y":561},{"s":"130","x":61.5,"y":553},{"s":"130","x":61.8,"y":545},{"s":"130","x":62.2,"y":537},{"s":"130","x":62.7,"y":531},{"s":"130","x":63.2,"y":529},{"s":"130","x":63.8,"y":526},{"s":"130","x":64.4,"y":527},{"s":"130","x":65.0,"y":524},{"s":"130","x":65.7,"y":523},{"s":"130","x":66.5,"y":521},{"s":"130","x":67.3,"y":520},{"s":"130","x":68.0,"y":518},{"s":"130","x":68.8,"y":517},{"s":"130","x":69.5,"y":516},{"s":"130","x":70.0,"y":515},
      {"s":"140","x":5.3,"y":370},{"s":"140","x":5.7,"y":373},{"s":"140","x":6.1,"y":375},{"s":"140","x":6.5,"y":380},{"s":"140","x":6.8,"y":395},{"s":"140","x":7.08,"y":423},{"s":"140","x":7.3,"y":455},{"s":"140","x":7.53,"y":485},{"s":"140","x":7.66,"y":497},{"s":"140","x":7.8,"y":478},{"s":"140","x":7.97,"y":450},{"s":"140","x":8.2,"y":418},{"s":"140","x":8.51,"y":390},{"s":"140","x":8.9,"y":374},{"s":"140","x":9.4,"y":368},{"s":"140","x":9.9,"y":366},{"s":"140","x":10.4,"y":365},{"s":"140","x":10.9,"y":363},{"s":"140","x":11.4,"y":365},{"s":"140","x":11.9,"y":362},{"s":"140","x":12.4,"y":364},{"s":"140","x":12.9,"y":362},{"s":"140","x":13.41,"y":364},{"s":"140","x":13.8,"y":372},{"s":"140","x":14.21,"y":394},{"s":"140","x":14.5,"y":415},{"s":"140","x":14.75,"y":436},{"s":"140","x":15.01,"y":446},{"s":"140","x":15.2,"y":430},{"s":"140","x":15.4,"y":410},{"s":"140","x":15.7,"y":390},{"s":"140","x":16.08,"y":377},{"s":"140","x":16.5,"y":370},{"s":"140","x":16.97,"y":368},{"s":"140","x":17.5,"y":369},{"s":"140","x":18.0,"y":367},{"s":"140","x":18.5,"y":370},{"s":"140","x":19.0,"y":369},{"s":"140","x":19.5,"y":371},{"s":"140","x":20.0,"y":370},{"s":"140","x":20.54,"y":373},{"s":"140","x":21.0,"y":380},{"s":"140","x":21.4,"y":392},{"s":"140","x":21.75,"y":405},{"s":"140","x":22.0,"y":412},{"s":"140","x":22.19,"y":415},{"s":"140","x":22.45,"y":405},{"s":"140","x":22.75,"y":392},{"s":"140","x":22.99,"y":382},{"s":"140","x":23.4,"y":374},{"s":"140","x":23.8,"y":369},{"s":"140","x":24.3,"y":367},{"s":"140","x":24.8,"y":366},{"s":"140","x":25.3,"y":364},{"s":"140","x":25.8,"y":365},{"s":"140","x":26.3,"y":362},{"s":"140","x":26.8,"y":364},{"s":"140","x":27.3,"y":362},{"s":"140","x":27.8,"y":363},{"s":"140","x":28.3,"y":361},{"s":"140","x":28.8,"y":362},{"s":"140","x":29.4,"y":360},{"s":"140","x":30.0,"y":361},{"s":"140","x":30.6,"y":359},{"s":"140","x":31.2,"y":360},{"s":"140","x":31.8,"y":358},{"s":"140","x":32.4,"y":360},{"s":"140","x":32.9,"y":359},{"s":"140","x":33.46,"y":360},{"s":"140","x":33.9,"y":366},{"s":"140","x":34.3,"y":374},{"s":"140","x":34.8,"y":381},{"s":"140","x":35.2,"y":386},{"s":"140","x":35.6,"y":389},{"s":"140","x":36.0,"y":387},{"s":"140","x":36.4,"y":389},{"s":"140","x":36.8,"y":386},{"s":"140","x":37.3,"y":385},{"s":"140","x":37.8,"y":383},{"s":"140","x":38.36,"y":382},{"s":"140","x":38.8,"y":380},{"s":"140","x":39.3,"y":381},{"s":"140","x":39.8,"y":378},{"s":"140","x":40.3,"y":379},{"s":"140","x":40.8,"y":376},{"s":"140","x":41.3,"y":377},{"s":"140","x":41.8,"y":374},{"s":"140","x":42.3,"y":375},{"s":"140","x":42.8,"y":373},{"s":"140","x":43.3,"y":374},{"s":"140","x":43.8,"y":371},{"s":"140","x":44.3,"y":372},{"s":"140","x":44.8,"y":369},{"s":"140","x":45.3,"y":370},{"s":"140","x":45.8,"y":368},{"s":"140","x":46.3,"y":369},{"s":"140","x":46.8,"y":366},{"s":"140","x":47.5,"y":367},{"s":"140","x":48.2,"y":364},{"s":"140","x":49.0,"y":365},{"s":"140","x":49.8,"y":362},{"s":"140","x":50.6,"y":363},{"s":"140","x":51.4,"y":360},{"s":"140","x":52.2,"y":361},{"s":"140","x":53.0,"y":358},{"s":"140","x":53.8,"y":359},{"s":"140","x":54.6,"y":357},{"s":"140","x":55.4,"y":358},{"s":"140","x":56.2,"y":356},{"s":"140","x":57.0,"y":357},{"s":"140","x":57.8,"y":355},{"s":"140","x":58.6,"y":356},{"s":"140","x":59.3,"y":355},{"s":"140","x":59.8,"y":358},{"s":"140","x":60.2,"y":368},{"s":"140","x":60.55,"y":380},{"s":"140","x":60.85,"y":389},{"s":"140","x":61.05,"y":390},{"s":"140","x":61.3,"y":382},{"s":"140","x":61.6,"y":374},{"s":"140","x":62.0,"y":369},{"s":"140","x":62.5,"y":364},{"s":"140","x":63.0,"y":362},{"s":"140","x":63.6,"y":359},{"s":"140","x":64.2,"y":357},{"s":"140","x":64.8,"y":358},{"s":"140","x":65.5,"y":355},{"s":"140","x":66.2,"y":354},{"s":"140","x":67.0,"y":353},{"s":"140","x":67.8,"y":352},{"s":"140","x":68.6,"y":351},{"s":"140","x":69.3,"y":350},{"s":"140","x":70.0,"y":350},
      {"s":"150","x":5.3,"y":196},{"s":"150","x":5.7,"y":199},{"s":"150","x":6.1,"y":202},{"s":"150","x":6.5,"y":206},{"s":"150","x":6.8,"y":222},{"s":"150","x":7.08,"y":258},{"s":"150","x":7.3,"y":292},{"s":"150","x":7.53,"y":318},{"s":"150","x":7.68,"y":331},{"s":"150","x":7.85,"y":310},{"s":"150","x":8.06,"y":276},{"s":"150","x":8.35,"y":240},{"s":"150","x":8.73,"y":212},{"s":"150","x":9.2,"y":200},{"s":"150","x":9.85,"y":193},{"s":"150","x":10.3,"y":194},{"s":"150","x":10.8,"y":192},{"s":"150","x":11.3,"y":194},{"s":"150","x":11.8,"y":191},{"s":"150","x":12.3,"y":193},{"s":"150","x":12.8,"y":191},{"s":"150","x":13.3,"y":193},{"s":"150","x":13.85,"y":194},{"s":"150","x":14.2,"y":210},{"s":"150","x":14.52,"y":235},{"s":"150","x":14.8,"y":256},{"s":"150","x":15.06,"y":266},{"s":"150","x":15.3,"y":250},{"s":"150","x":15.64,"y":226},{"s":"150","x":16.0,"y":208},{"s":"150","x":16.53,"y":197},{"s":"150","x":17.0,"y":195},{"s":"150","x":17.5,"y":196},{"s":"150","x":18.0,"y":194},{"s":"150","x":18.5,"y":196},{"s":"150","x":19.0,"y":195},{"s":"150","x":19.5,"y":197},{"s":"150","x":20.0,"y":196},{"s":"150","x":20.54,"y":197},{"s":"150","x":21.0,"y":203},{"s":"150","x":21.5,"y":212},{"s":"150","x":21.87,"y":220},{"s":"150","x":22.2,"y":228},{"s":"150","x":22.54,"y":233},{"s":"150","x":22.85,"y":225},{"s":"150","x":23.15,"y":214},{"s":"150","x":23.43,"y":205},{"s":"150","x":23.9,"y":196},{"s":"150","x":24.5,"y":191},{"s":"150","x":25.0,"y":189},{"s":"150","x":25.5,"y":190},{"s":"150","x":26.0,"y":188},{"s":"150","x":26.5,"y":189},{"s":"150","x":27.0,"y":187},{"s":"150","x":27.5,"y":188},{"s":"150","x":28.0,"y":186},{"s":"150","x":28.5,"y":188},{"s":"150","x":29.0,"y":187},{"s":"150","x":29.5,"y":188},{"s":"150","x":30.0,"y":186},{"s":"150","x":30.5,"y":188},{"s":"150","x":31.0,"y":186},{"s":"150","x":31.5,"y":187},{"s":"150","x":32.0,"y":186},{"s":"150","x":32.5,"y":188},{"s":"150","x":33.0,"y":188},{"s":"150","x":33.5,"y":193},{"s":"150","x":34.0,"y":199},{"s":"150","x":34.35,"y":204},{"s":"150","x":34.8,"y":209},{"s":"150","x":35.3,"y":213},{"s":"150","x":35.7,"y":214},{"s":"150","x":36.1,"y":211},{"s":"150","x":36.6,"y":212},{"s":"150","x":37.1,"y":209},{"s":"150","x":37.6,"y":208},{"s":"150","x":38.1,"y":206},{"s":"150","x":38.6,"y":205},{"s":"150","x":39.25,"y":203},{"s":"150","x":39.8,"y":202},{"s":"150","x":40.3,"y":200},{"s":"150","x":40.8,"y":199},{"s":"150","x":41.5,"y":196},{"s":"150","x":42.0,"y":198},{"s":"150","x":42.8,"y":197},{"s":"150","x":43.5,"y":195},{"s":"150","x":44.2,"y":194},{"s":"150","x":45.0,"y":192},{"s":"150","x":45.8,"y":193},{"s":"150","x":46.6,"y":190},{"s":"150","x":47.3,"y":191},{"s":"150","x":48.0,"y":188},{"s":"150","x":48.8,"y":189},{"s":"150","x":49.6,"y":186},{"s":"150","x":50.4,"y":187},{"s":"150","x":51.2,"y":184},{"s":"150","x":52.0,"y":184},{"s":"150","x":52.8,"y":182},{"s":"150","x":53.6,"y":183},{"s":"150","x":54.5,"y":180},{"s":"150","x":55.3,"y":181},{"s":"150","x":56.1,"y":179},{"s":"150","x":57.0,"y":180},{"s":"150","x":57.8,"y":178},{"s":"150","x":58.6,"y":179},{"s":"150","x":59.3,"y":179},{"s":"150","x":59.8,"y":182},{"s":"150","x":60.2,"y":192},{"s":"150","x":60.55,"y":205},{"s":"150","x":60.85,"y":217},{"s":"150","x":61.05,"y":220},{"s":"150","x":61.3,"y":213},{"s":"150","x":61.7,"y":203},{"s":"150","x":62.1,"y":195},{"s":"150","x":62.6,"y":189},{"s":"150","x":63.1,"y":185},{"s":"150","x":63.7,"y":182},{"s":"150","x":64.3,"y":180},{"s":"150","x":65.0,"y":178},{"s":"150","x":65.7,"y":177},{"s":"150","x":66.5,"y":176},{"s":"150","x":67.3,"y":177},{"s":"150","x":68.1,"y":175},{"s":"150","x":68.9,"y":176},{"s":"150","x":69.5,"y":175},{"s":"150","x":70.0,"y":174},
      {"s":"pre","x":5.3,"y":44},{"s":"pre","x":5.8,"y":40},{"s":"pre","x":6.3,"y":37},{"s":"pre","x":6.8,"y":35},{"s":"pre","x":7.3,"y":34},{"s":"pre","x":7.8,"y":33},{"s":"pre","x":8.3,"y":32},{"s":"pre","x":8.8,"y":34},{"s":"pre","x":9.2,"y":36},{"s":"pre","x":9.6,"y":39},{"s":"pre","x":10.0,"y":45},{"s":"pre","x":10.3,"y":53},{"s":"pre","x":10.6,"y":65},{"s":"pre","x":10.85,"y":85},{"s":"pre","x":11.05,"y":105},{"s":"pre","x":11.25,"y":130},{"s":"pre","x":11.45,"y":148},{"s":"pre","x":11.6,"y":153},{"s":"pre","x":11.75,"y":146},{"s":"pre","x":11.9,"y":125},{"s":"pre","x":12.05,"y":100},{"s":"pre","x":12.2,"y":77},{"s":"pre","x":12.4,"y":60},{"s":"pre","x":12.6,"y":50},{"s":"pre","x":12.9,"y":41},{"s":"pre","x":13.3,"y":36},{"s":"pre","x":13.8,"y":33},{"s":"pre","x":14.5,"y":31},{"s":"pre","x":15.2,"y":30},{"s":"pre","x":15.9,"y":31},{"s":"pre","x":16.6,"y":29},{"s":"pre","x":17.3,"y":30},{"s":"pre","x":18.0,"y":29},{"s":"pre","x":18.7,"y":31},{"s":"pre","x":19.4,"y":30},{"s":"pre","x":20.1,"y":31},{"s":"pre","x":20.8,"y":32},{"s":"pre","x":21.4,"y":34},{"s":"pre","x":21.9,"y":40},{"s":"pre","x":22.3,"y":52},{"s":"pre","x":22.6,"y":66},{"s":"pre","x":22.9,"y":80},{"s":"pre","x":23.2,"y":91},{"s":"pre","x":23.45,"y":82},{"s":"pre","x":23.7,"y":66},{"s":"pre","x":23.95,"y":52},{"s":"pre","x":24.2,"y":42},{"s":"pre","x":24.6,"y":35},{"s":"pre","x":25.1,"y":31},{"s":"pre","x":25.6,"y":30},{"s":"pre","x":26.2,"y":29},{"s":"pre","x":26.8,"y":30},{"s":"pre","x":27.4,"y":29},{"s":"pre","x":28.1,"y":29},{"s":"pre","x":28.8,"y":30},{"s":"pre","x":29.5,"y":30},{"s":"pre","x":30.2,"y":31},{"s":"pre","x":30.9,"y":30},{"s":"pre","x":31.6,"y":31},{"s":"pre","x":32.3,"y":31},{"s":"pre","x":33.0,"y":31},{"s":"pre","x":33.8,"y":32},{"s":"pre","x":34.1,"y":42},{"s":"pre","x":34.35,"y":58},{"s":"pre","x":34.55,"y":72},{"s":"pre","x":34.7,"y":76},{"s":"pre","x":34.9,"y":68},{"s":"pre","x":35.2,"y":57},{"s":"pre","x":35.5,"y":52},{"s":"pre","x":35.9,"y":44},{"s":"pre","x":36.3,"y":38},{"s":"pre","x":36.8,"y":35},{"s":"pre","x":37.3,"y":34},{"s":"pre","x":37.7,"y":36},{"s":"pre","x":38.1,"y":42},{"s":"pre","x":38.5,"y":47},{"s":"pre","x":38.8,"y":50},{"s":"pre","x":39.1,"y":49},{"s":"pre","x":39.5,"y":46},{"s":"pre","x":39.8,"y":44},{"s":"pre","x":40.3,"y":40},{"s":"pre","x":40.8,"y":37},{"s":"pre","x":41.3,"y":35},{"s":"pre","x":41.8,"y":33},{"s":"pre","x":42.4,"y":32},{"s":"pre","x":43.0,"y":31},{"s":"pre","x":43.7,"y":31},{"s":"pre","x":44.3,"y":34},{"s":"pre","x":44.8,"y":39},{"s":"pre","x":45.3,"y":44},{"s":"pre","x":45.7,"y":47},{"s":"pre","x":46.1,"y":49},{"s":"pre","x":46.5,"y":48},{"s":"pre","x":47.0,"y":45},{"s":"pre","x":47.6,"y":42},{"s":"pre","x":48.2,"y":40},{"s":"pre","x":48.8,"y":38},{"s":"pre","x":49.5,"y":36},{"s":"pre","x":50.2,"y":34},{"s":"pre","x":51.0,"y":32},{"s":"pre","x":51.8,"y":30},{"s":"pre","x":52.6,"y":29},{"s":"pre","x":53.4,"y":28},{"s":"pre","x":54.2,"y":28},{"s":"pre","x":55.0,"y":27},{"s":"pre","x":55.8,"y":28},{"s":"pre","x":56.6,"y":27},{"s":"pre","x":57.4,"y":28},{"s":"pre","x":58.2,"y":28},{"s":"pre","x":59.0,"y":29},{"s":"pre","x":59.6,"y":30},{"s":"pre","x":60.0,"y":36},{"s":"pre","x":60.3,"y":47},{"s":"pre","x":60.6,"y":59},{"s":"pre","x":60.85,"y":52},{"s":"pre","x":61.1,"y":44},{"s":"pre","x":61.4,"y":46},{"s":"pre","x":61.7,"y":53},{"s":"pre","x":61.9,"y":55},{"s":"pre","x":62.1,"y":49},{"s":"pre","x":62.4,"y":40},{"s":"pre","x":62.8,"y":31},{"s":"pre","x":63.3,"y":28},{"s":"pre","x":64.0,"y":27},{"s":"pre","x":64.7,"y":28},{"s":"pre","x":65.2,"y":30},{"s":"pre","x":65.5,"y":32},{"s":"pre","x":65.9,"y":30},{"s":"pre","x":66.3,"y":27},{"s":"pre","x":66.8,"y":27},{"s":"pre","x":67.5,"y":26},{"s":"pre","x":68.2,"y":26},{"s":"pre","x":69.0,"y":25},{"s":"pre","x":70.0,"y":25}
    ]
  },
  "vconcat": [
    {
      "width": 1082,
      "height": 750,
      "layer": [
        {
          "data": {"name": "a"},
          "mark": {"type": "line", "strokeWidth": 3.5},
          "encoding": {
            "x": {"field": "x", "type": "quantitative", "scale": {"domain": [0, 70], "nice": false, "zero": false},
              "axis": {"values": [0, 10, 20, 30, 40, 50, 60, 70], "title": ["2θ/(°)", "(a) pH=3.5"]}},
            "y": {"field": "y", "type": "quantitative", "scale": {"domain": [0, 750], "nice": false}, "axis": null},
            "color": {"field": "s", "type": "nominal", "scale": {"domain": ["130", "140", "150", "pre"], "range": ["#2f9e84", "#3f5cc8", "#e2284f", "#474747"]}, "legend": null}
          }
        },
        {
          "data": {"values": [{"t": "130 ℃-8 h", "x": 70, "y": 624}, {"t": "140 ℃-7 h", "x": 70, "y": 533}, {"t": "150 ℃-6 h", "x": 70, "y": 446}]},
          "mark": {"type": "text", "align": "right", "baseline": "alphabetic", "color": "#111111"},
          "encoding": {"x": {"field": "x", "type": "quantitative"}, "y": {"field": "y", "type": "quantitative"}, "text": {"field": "t"}}
        },
        {
          "data": {"values": [{"t": "003", "x": 7.44, "y": 643}, {"t": "006", "x": 14.9, "y": 629}, {"t": "009", "x": 21.9, "y": 627}, {"t": "003", "x": 12.2, "y": 381}, {"t": "006", "x": 23.2, "y": 247}, {"t": "009", "x": 35.3, "y": 216}]},
          "mark": {"type": "text", "align": "center", "baseline": "alphabetic", "color": "#35359b"},
          "encoding": {"x": {"field": "x", "type": "quantitative"}, "y": {"field": "y", "type": "quantitative"}, "text": {"field": "t"}}
        },
        {
          "data": {"values": [{"t": "前驱体", "x": 63.3, "y": 157}]},
          "mark": {"type": "text", "align": "center", "baseline": "alphabetic", "font": "Noto Sans CJK SC", "fontSize": 56, "color": "#111111"},
          "encoding": {"x": {"field": "x", "type": "quantitative"}, "y": {"field": "y", "type": "quantitative"}, "text": {"field": "t"}}
        },
        {
          "data": {"values": [{"t": "pH=3.5", "x": 4.33, "y": 708}]},
          "mark": {"type": "text", "align": "left", "baseline": "alphabetic", "color": "#111111"},
          "encoding": {"x": {"field": "x", "type": "quantitative"}, "y": {"field": "y", "type": "quantitative"}, "text": {"field": "t"}}
        }
      ]
    },
    {
      "width": 1082,
      "height": 750,
      "layer": [
        {
          "data": {"name": "b"},
          "mark": {"type": "line", "strokeWidth": 3.5},
          "encoding": {
            "x": {"field": "x", "type": "quantitative", "scale": {"domain": [0, 70], "nice": false, "zero": false},
              "axis": {"values": [0, 10, 20, 30, 40, 50, 60, 70], "title": ["2θ/(°)", "(b) pH=4.0"]}},
            "y": {"field": "y", "type": "quantitative", "scale": {"domain": [0, 750], "nice": false}, "axis": null},
            "color": {"field": "s", "type": "nominal", "scale": {"domain": ["130", "140", "150", "pre"], "range": ["#2f9e84", "#3f5cc8", "#e2284f", "#474747"]}, "legend": null}
          }
        },
        {
          "data": {"values": [{"t": "130 ℃-8 h", "x": 70, "y": 588}, {"t": "140 ℃-7 h", "x": 70, "y": 468}, {"t": "150 ℃-6 h", "x": 70, "y": 320}]},
          "mark": {"type": "text", "align": "right", "baseline": "alphabetic", "color": "#111111"},
          "encoding": {"x": {"field": "x", "type": "quantitative"}, "y": {"field": "y", "type": "quantitative"}, "text": {"field": "t"}}
        },
        {
          "data": {"values": [{"t": "003", "x": 10.4, "y": 665}, {"t": "006", "x": 20.4, "y": 644}, {"t": "009", "x": 34.9, "y": 601}, {"t": "003", "x": 15.7, "y": 215}, {"t": "006", "x": 24.2, "y": 184}, {"t": "009", "x": 40.05, "y": 108}]},
          "mark": {"type": "text", "align": "center", "baseline": "alphabetic", "color": "#35359b"},
          "encoding": {"x": {"field": "x", "type": "quantitative"}, "y": {"field": "y", "type": "quantitative"}, "text": {"field": "t"}}
        },
        {
          "data": {"values": [{"t": "前驱体", "x": 61.8, "y": 107}]},
          "mark": {"type": "text", "align": "center", "baseline": "alphabetic", "font": "Noto Sans CJK SC", "fontSize": 56, "color": "#111111"},
          "encoding": {"x": {"field": "x", "type": "quantitative"}, "y": {"field": "y", "type": "quantitative"}, "text": {"field": "t"}}
        },
        {
          "data": {"values": [{"t": "pH=4.0", "x": 4.7, "y": 723}]},
          "mark": {"type": "text", "align": "left", "baseline": "alphabetic", "color": "#111111"},
          "encoding": {"x": {"field": "x", "type": "quantitative"}, "y": {"field": "y", "type": "quantitative"}, "text": {"field": "t"}}
        }
      ]
    },
    {
      "width": 1082,
      "height": 750,
      "layer": [
        {
          "data": {"name": "c"},
          "mark": {"type": "line", "strokeWidth": 3.5},
          "encoding": {
            "x": {"field": "x", "type": "quantitative", "scale": {"domain": [0, 70], "nice": false, "zero": false},
              "axis": {"values": [0, 10, 20, 30, 40, 50, 60, 70], "title": ["2θ/(°)", "(c) pH=4.5"]}},
            "y": {"field": "y", "type": "quantitative", "scale": {"domain": [0, 750], "nice": false}, "axis": null},
            "color": {"field": "s", "type": "nominal", "scale": {"domain": ["130", "140", "150", "pre"], "range": ["#2f9e84", "#3f5cc8", "#e2284f", "#474747"]}, "legend": null}
          }
        },
        {
          "data": {"values": [{"t": "130 ℃-8 h", "x": 70, "y": 580}, {"t": "140 ℃-7 h", "x": 70, "y": 427}, {"t": "150 ℃-6 h", "x": 70, "y": 249}]},
          "mark": {"type": "text", "align": "right", "baseline": "alphabetic", "color": "#111111"},
          "encoding": {"x": {"field": "x", "type": "quantitative"}, "y": {"field": "y", "type": "quantitative"}, "text": {"field": "t"}}
        },
        {
          "data": {"values": [{"t": "003", "x": 7.93, "y": 650}, {"t": "006", "x": 15.77, "y": 611}, {"t": "009", "x": 23.8, "y": 595}, {"t": "003", "x": 15.33, "y": 119}, {"t": "006", "x": 24.75, "y": 105}, {"t": "009", "x": 37.0, "y": 88}]},
          "mark": {"type": "text", "align": "center", "baseline": "alphabetic", "color": "#111111"},
          "encoding": {"x": {"field": "x", "type": "quantitative"}, "y": {"field": "y", "type": "quantitative"}, "text": {"field": "t"}}
        },
        {
          "data": {"values": [{"t": "前驱体", "x": 61.9, "y": 78}]},
          "mark": {"type": "text", "align": "center", "baseline": "alphabetic", "font": "Noto Sans CJK SC", "fontSize": 56, "color": "#111111"},
          "encoding": {"x": {"field": "x", "type": "quantitative"}, "y": {"field": "y", "type": "quantitative"}, "text": {"field": "t"}}
        },
        {
          "data": {"values": [{"t": "pH=4.5", "x": 4.7, "y": 724}]},
          "mark": {"type": "text", "align": "left", "baseline": "alphabetic", "color": "#111111"},
          "encoding": {"x": {"field": "x", "type": "quantitative"}, "y": {"field": "y", "type": "quantitative"}, "text": {"field": "t"}}
        }
      ]
    }
  ],
  "config": {
    "view": {"stroke": null},
    "font": "Liberation Serif",
    "text": {"font": "Liberation Serif", "fontSize": 54},
    "axis": {
      "grid": false,
      "domainColor": "#111111",
      "domainWidth": 4,
      "tickColor": "#111111",
      "tickWidth": 4,
      "tickSize": -12,
      "labelFont": "Liberation Serif",
      "labelFontSize": 54,
      "labelColor": "#111111",
      "labelPadding": 34,
      "labelFlush": false,
      "labelOverlap": false,
      "titleFont": "Liberation Serif",
      "titleFontSize": 54,
      "titleFontWeight": "normal",
      "titleColor": "#111111",
      "titleBaseline": "alphabetic",
      "titleY": 136,
      "titleLineHeight": 85
    }
  }
}
